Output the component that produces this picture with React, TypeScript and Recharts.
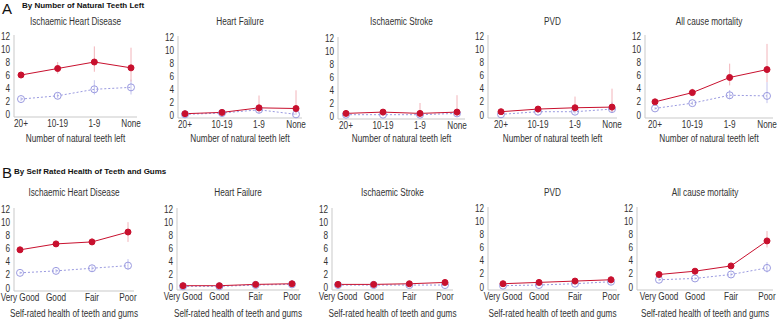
// Dental health vs cardiovascular outcomes – small multiples
import React from "react";
import { LineChart, Line, XAxis, YAxis, ErrorBar } from "recharts";

const teethCats = ["20+", "10-19", "1-9", "None"];
const healthCats = ["Very Good", "Good", "Fair", "Poor"];
const yTicks = [0, 2, 4, 6, 8, 10, 12];

// Row A – by number of natural teeth left
const aIhdRed = [6.0, 7.0, 8.0, 7.1];
const aIhdRedLo = [5.6, 6.2, 6.5, 5.0];
const aIhdRedHi = [6.4, 8.0, 10.4, 10.2];
const aIhdBlue = [2.3, 2.8, 3.8, 4.1];
const aIhdBlueLo = [2.0, 2.4, 3.0, 3.0];
const aIhdBlueHi = [2.6, 3.2, 5.2, 5.3];

const aHfRed = [0.2, 0.4, 1.1, 1.0];
const aHfRedLo = [0.1, 0.2, 0.4, 0.3];
const aHfRedHi = [0.3, 0.6, 3.0, 3.8];
const aHfBlue = [0.1, 0.3, 0.8, 0.1];
const aHfBlueLo = [0.05, 0.2, 0.3, 0.0];
const aHfBlueHi = [0.2, 0.4, 1.5, 0.6];

const aStrRed = [0.4, 0.6, 0.4, 0.6];
const aStrRedLo = [0.3, 0.4, 0.1, 0.1];
const aStrRedHi = [0.5, 0.8, 2.0, 3.2];
const aStrBlue = [0.2, 0.2, 0.2, 0.4];
const aStrBlueLo = [0.1, 0.1, 0.0, 0.0];
const aStrBlueHi = [0.3, 0.3, 0.8, 1.2];

const aPvdRed = [0.5, 0.9, 1.1, 1.2];
const aPvdRedLo = [0.3, 0.6, 0.5, 0.4];
const aPvdRedHi = [0.7, 1.2, 2.8, 4.0];
const aPvdBlue = [0.1, 0.5, 0.5, 0.9];
const aPvdBlueLo = [0.0, 0.3, 0.2, 0.3];
const aPvdBlueHi = [0.2, 0.7, 1.2, 2.0];

const aAllRed = [2.0, 3.4, 5.7, 6.9];
const aAllRedLo = [1.8, 3.0, 4.5, 5.0];
const aAllRedHi = [2.2, 4.0, 7.8, 10.8];
const aAllBlue = [1.0, 1.8, 3.0, 2.9];
const aAllBlueLo = [0.8, 1.5, 2.4, 1.8];
const aAllBlueHi = [1.2, 2.1, 3.8, 5.0];

// Row B – by self rated health of teeth and gums
const bIhdRed = [5.8, 6.7, 7.0, 8.5];
const bIhdRedLo = [5.5, 6.3, 6.5, 7.0];
const bIhdRedHi = [6.1, 7.1, 7.6, 10.0];
const bIhdBlue = [2.3, 2.6, 3.0, 3.4];
const bIhdBlueLo = [2.1, 2.3, 2.6, 2.8];
const bIhdBlueHi = [2.5, 2.9, 3.4, 4.4];

const bHfRed = [0.2, 0.2, 0.4, 0.5];
const bHfRedLo = [0.1, 0.1, 0.2, 0.2];
const bHfRedHi = [0.3, 0.3, 0.7, 1.0];
const bHfBlue = [0.1, 0.1, 0.3, 0.4];
const bHfBlueLo = [0.05, 0.05, 0.1, 0.1];
const bHfBlueHi = [0.2, 0.2, 0.5, 0.8];

const bStrRed = [0.4, 0.4, 0.5, 0.7];
const bStrRedLo = [0.3, 0.3, 0.3, 0.4];
const bStrRedHi = [0.5, 0.5, 0.7, 1.1];
const bStrBlue = [0.3, 0.3, 0.3, 0.3];
const bStrBlueLo = [0.2, 0.2, 0.2, 0.1];
const bStrBlueHi = [0.4, 0.4, 0.5, 0.6];

const bPvdRed = [0.5, 0.7, 0.9, 1.1];
const bPvdRedLo = [0.4, 0.5, 0.6, 0.7];
const bPvdRedHi = [0.6, 0.9, 1.2, 1.6];
const bPvdBlue = [0.2, 0.3, 0.5, 0.8];
const bPvdBlueLo = [0.1, 0.2, 0.3, 0.4];
const bPvdBlueHi = [0.3, 0.4, 0.7, 1.2];

const bAllRed = [1.9, 2.4, 3.2, 7.0];
const bAllRedLo = [1.7, 2.2, 2.9, 6.0];
const bAllRedHi = [2.1, 2.6, 3.5, 8.5];
const bAllBlue = [1.1, 1.3, 1.9, 2.9];
const bAllBlueLo = [0.9, 1.1, 1.6, 2.2];
const bAllBlueHi = [1.3, 1.5, 2.2, 3.8];

const FONT = '"Liberation Sans", Arial, sans-serif';
const TXT = "#333";
const RED = "#c8102e";
const BLUE = "#9a9ae0";
const FRAME = "#c9c9c9";
const SQ = 0.82; // the figure is horizontally squeezed
const YW = 16;
const XH = 16;
const PADX = 30;
const PADY = 8;

const XTick = (p: any) => (
  <text transform={`translate(${p.x},${p.y}) scale(${SQ},1)`} textAnchor="middle" dy="0.71em" fontSize={10} fill={TXT} fontFamily={FONT}>
    {p.payload.value}
  </text>
);

const YTick = (p: any) => (
  <text transform={`translate(${p.x},${p.y}) scale(${SQ},1)`} textAnchor="end" dy="0.355em" fontSize={10} fill={TXT} fontFamily={FONT}>
    {p.payload.value}
  </text>
);

type Box = { x1: number; x2: number; y1: number; y2: number; pl: number; pr: number };

type PanelProps = {
  title: string;
  xLabel: string;
  cats: string[];
  red: number[];
  redLo: number[];
  redHi: number[];
  blue: number[];
  blueLo: number[];
  blueHi: number[];
  box: Box;
  titleY: number;
  labelY: number;
};

const squeezed = { transform: `scaleX(${SQ})`, transformOrigin: "center" };

const Panel = ({ title, xLabel, cats, red, redLo, redHi, blue, blueLo, blueHi, box, titleY, labelY }: PanelProps) => {
  const data = cats.map((c, i) => ({
    cat: c,
    red: red[i],
    redErr: [red[i] - redLo[i], redHi[i] - red[i]],
    blue: blue[i],
    blueErr: [blue[i] - blueLo[i], blueHi[i] - blue[i]]
  }));
  const w = box.x2 - box.x1;
  const h = box.y2 - box.y1;
  return (
    <>
      <div style={{ position: "absolute", left: box.x1 - 30, width: w + 60, top: titleY - 6, textAlign: "center", fontSize: 10, color: TXT, whiteSpace: "nowrap", ...squeezed }}>
        {title}
      </div>
      <div style={{ position: "absolute", left: box.x1 - 40, width: w + 80, top: labelY - 6, textAlign: "center", fontSize: 10, color: TXT, whiteSpace: "nowrap", ...squeezed }}>
        {xLabel}
      </div>
      <div style={{ position: "absolute", left: box.x1 - YW - PADX, top: box.y1 - PADY }}>
        <LineChart
          width={w + YW + 2 * PADX}
          height={h + PADY + XH}
          data={data}
          margin={{ top: PADY, right: PADX, left: PADX, bottom: 0 }}
        >
          <XAxis
            dataKey="cat"
            height={XH}
            interval={0}
            padding={{ left: box.pl, right: box.pr }}
            tickLine={false}
            tickSize={3}
            tickMargin={0}
            stroke={FRAME}
            tick={<XTick />}
          />
          <XAxis xAxisId="top" dataKey="cat" orientation="top" height={0} tick={false} tickLine={false} stroke={FRAME} />
          <YAxis
            domain={[0, 12]}
            ticks={yTicks}
            width={YW}
            interval={0}
            padding={{ top: 1, bottom: 3 }}
            tickLine={false}
            tickSize={4}
            tickMargin={0}
            stroke={FRAME}
            tick={<YTick />}
          />
          <YAxis yAxisId="right" orientation="right" width={0} tick={false} tickLine={false} stroke={FRAME} />
          <Line
            dataKey="blue"
            stroke={BLUE}
            strokeWidth={1}
            strokeDasharray="2 2"
            dot={{ r: 3.5, stroke: BLUE, strokeWidth: 1, fill: "none", strokeDasharray: "0" }}
            isAnimationActive={false}
          >
            <ErrorBar dataKey="blueErr" width={0} stroke="#c4c4ee" strokeWidth={1} direction="y" />
          </Line>
          <Line
            dataKey="red"
            stroke={RED}
            strokeWidth={1}
            dot={{ r: 3, stroke: RED, strokeWidth: 1, fill: RED }}
            isAnimationActive={false}
          >
            <ErrorBar dataKey="redErr" width={0} stroke="#f2b4ba" strokeWidth={1} direction="y" />
          </Line>
        </LineChart>
      </div>
    </>
  );
};

const teethLabel = "Number of natural teeth left";
const healthLabel = "Self-rated health of teeth and gums";

export default function App() {
  const rowA = { titleY: 22, labelY: 139 };
  const rowB = { titleY: 193, labelY: 314 };
  return (
    <div style={{ position: "absolute", left: 0, top: 0, width: 780, height: 319, background: "#fff", fontFamily: FONT, overflow: "hidden" }}>
      <div style={{ position: "absolute", left: 2, top: 0, fontSize: 15, color: "#111" }}>A</div>
      <div style={{ position: "absolute", left: 22, top: 1, fontSize: 8, fontWeight: "bold", color: "#111" }}>By Number of Natural Teeth Left</div>
      <div style={{ position: "absolute", left: 2, top: 164, fontSize: 15, color: "#111" }}>B</div>
      <div style={{ position: "absolute", left: 14, top: 167, fontSize: 8, fontWeight: "bold", color: "#111" }}>By Self Rated Health of Teeth and Gums</div>

      <Panel title="Ischaemic Heart Disease" xLabel={teethLabel} cats={teethCats}
        red={aIhdRed} redLo={aIhdRedLo} redHi={aIhdRedHi} blue={aIhdBlue} blueLo={aIhdBlueLo} blueHi={aIhdBlueHi}
        box={{ x1: 14, x2: 137, y1: 35, y2: 117, pl: 7, pr: 6 }} {...rowA} />
      <Panel title="Heart Failure" xLabel={teethLabel} cats={teethCats}
        red={aHfRed} redLo={aHfRedLo} redHi={aHfRedHi} blue={aHfBlue} blueLo={aHfBlueLo} blueHi={aHfBlueHi}
        box={{ x1: 178, x2: 302, y1: 36, y2: 118, pl: 7, pr: 6 }} {...rowA} />
      <Panel title="Ischaemic Stroke" xLabel={teethLabel} cats={teethCats}
        red={aStrRed} redLo={aStrRedLo} redHi={aStrRedHi} blue={aStrBlue} blueLo={aStrBlueLo} blueHi={aStrBlueHi}
        box={{ x1: 338, x2: 465, y1: 37, y2: 119, pl: 8, pr: 8 }} {...rowA} />
      <Panel title="PVD" xLabel={teethLabel} cats={teethCats}
        red={aPvdRed} redLo={aPvdRedLo} redHi={aPvdRedHi} blue={aPvdBlue} blueLo={aPvdBlueLo} blueHi={aPvdBlueHi}
        box={{ x1: 488, x2: 617, y1: 35, y2: 118, pl: 13, pr: 5 }} {...rowA} />
      <Panel title="All cause mortality" xLabel={teethLabel} cats={teethCats}
        red={aAllRed} redLo={aAllRedLo} redHi={aAllRedHi} blue={aAllBlue} blueLo={aAllBlueLo} blueHi={aAllBlueHi}
        box={{ x1: 645, x2: 773, y1: 35, y2: 118, pl: 10, pr: 6 }} {...rowA} />

      <Panel title="Ischaemic Heart Disease" xLabel={healthLabel} cats={healthCats}
        red={bIhdRed} redLo={bIhdRedLo} redHi={bIhdRedHi} blue={bIhdBlue} blueLo={bIhdBlueLo} blueHi={bIhdBlueHi}
        box={{ x1: 14, x2: 134, y1: 208, y2: 291, pl: 6, pr: 6 }} {...rowB} />
      <Panel title="Heart Failure" xLabel={healthLabel} cats={healthCats}
        red={bHfRed} redLo={bHfRedLo} redHi={bHfRedHi} blue={bHfBlue} blueLo={bHfBlueLo} blueHi={bHfBlueHi}
        box={{ x1: 177, x2: 299, y1: 208, y2: 290, pl: 6, pr: 7 }} {...rowB} />
      <Panel title="Ischaemic Stroke" xLabel={healthLabel} cats={healthCats}
        red={bStrRed} redLo={bStrRedLo} redHi={bStrRedHi} blue={bStrBlue} blueLo={bStrBlueLo} blueHi={bStrBlueHi}
        box={{ x1: 332, x2: 453, y1: 208, y2: 290, pl: 6, pr: 8 }} {...rowB} />
      <Panel title="PVD" xLabel={healthLabel} cats={healthCats}
        red={bPvdRed} redLo={bPvdRedLo} redHi={bPvdRedHi} blue={bPvdBlue} blueLo={bPvdBlueLo} blueHi={bPvdBlueHi}
        box={{ x1: 488, x2: 617, y1: 207, y2: 290, pl: 15, pr: 6 }} {...rowB} />
      <Panel title="All cause mortality" xLabel={healthLabel} cats={healthCats}
        red={bAllRed} redLo={bAllRedLo} redHi={bAllRedHi} blue={bAllBlue} blueLo={bAllBlueLo} blueHi={bAllBlueHi}
        box={{ x1: 637, x2: 773, y1: 207, y2: 290, pl: 22, pr: 6 }} {...rowB} />
    </div>
  );
}
